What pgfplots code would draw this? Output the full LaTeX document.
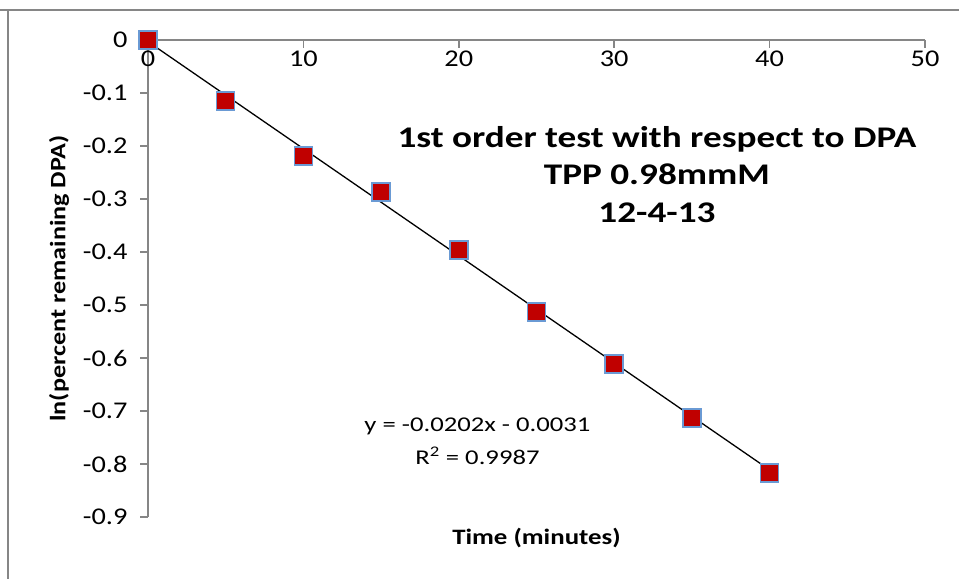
\documentclass[border=0pt]{standalone}
\usepackage{fontspec}
\setmainfont{Carlito}
\usepackage{graphicx}
\usepackage{pgfplots}
\pgfplotsset{compat=1.18}
\definecolor{axgray}{HTML}{868686}
\definecolor{mkred}{HTML}{C00000}
\definecolor{mkblue}{HTML}{6A9AD4}
\newcommand{\hs}[1]{\scalebox{1.18}[1]{#1}}
\begin{document}
\begin{tikzpicture}[x=1pt,y=1pt]
\useasboundingbox (0,0) rectangle (959,579);
\draw[axgray, line width=1.5pt] (0,569) -- (959,569);
\draw[axgray, line width=1.5pt] (8,569) -- (8,0);
\begin{axis}[
  at={(148pt,62pt)}, anchor=south west,
  scale only axis, width=777pt, height=477pt,
  xmin=0, xmax=50, ymin=-0.9, ymax=0,
  axis x line=top, axis y line=left,
  axis line style={axgray, line width=1.5pt, -},
  tick align=inside,
  major tick length=8pt,
  tick style={axgray, line width=1.5pt},
  y tick style={xshift=-8pt},
  xtick={0,10,20,30,40,50},
  xticklabels={\hs{0},\hs{10},\hs{20},\hs{30},\hs{40},\hs{50}},
  ytick={0,-0.1,-0.2,-0.3,-0.4,-0.5,-0.6,-0.7,-0.8,-0.9},
  yticklabels={\hs{0},\hs{-0.1},\hs{-0.2},\hs{-0.3},\hs{-0.4},\hs{-0.5},\hs{-0.6},\hs{-0.7},\hs{-0.8},\hs{-0.9}},
  tick label style={font=\fontsize{24}{28}\selectfont},
  x tick label style={anchor=north, yshift=-7pt},
  y tick label style={anchor=east, xshift=-17pt},
  xlabel={\scalebox{1.22}[1]{\textbf{Time (minutes)}}},
  ylabel={\scalebox{1.19}[1]{\textbf{ln(percent remaining DPA)}}},
  xlabel style={font=\fontsize{22}{26}\selectfont, at={(axis description cs:0.5,-0.045)}, anchor=center},
  ylabel style={font=\fontsize{22}{26}\selectfont, at={(axis description cs:-0.1145,0.5)}, anchor=center, rotate=0},
  clip=false,
]
\addplot[black, line width=1.3pt, forget plot] coordinates {(0,-0.0031) (40,-0.8111)};
\addplot[only marks, mark=square*, mark size=9pt,
  mark options={fill=mkred, draw=mkblue, line width=1.5pt}]
  coordinates {
  (0,0) (5,-0.115) (10,-0.219) (15,-0.287) (20,-0.396)
  (25,-0.513) (30,-0.611) (35,-0.713) (40,-0.817)
  };
\node[font=\fontsize{30}{37.5}\selectfont\bfseries, align=center, anchor=center]
  at (axis cs:32.75,-0.253) {\scalebox{1.24}[1]{1st order test with respect to DPA}\\\scalebox{1.24}[1]{TPP 0.98mmM}\\\scalebox{1.24}[1]{12-4-13}};
\node[font=\fontsize{21}{33}\selectfont, align=center, anchor=center]
  at (axis cs:21.2,-0.757) {\scalebox{1.27}[1]{y = -0.0202x - 0.0031}\\\scalebox{1.27}[1]{R\textsuperscript{2} = 0.9987}};
\end{axis}
\end{tikzpicture}
\end{document}
